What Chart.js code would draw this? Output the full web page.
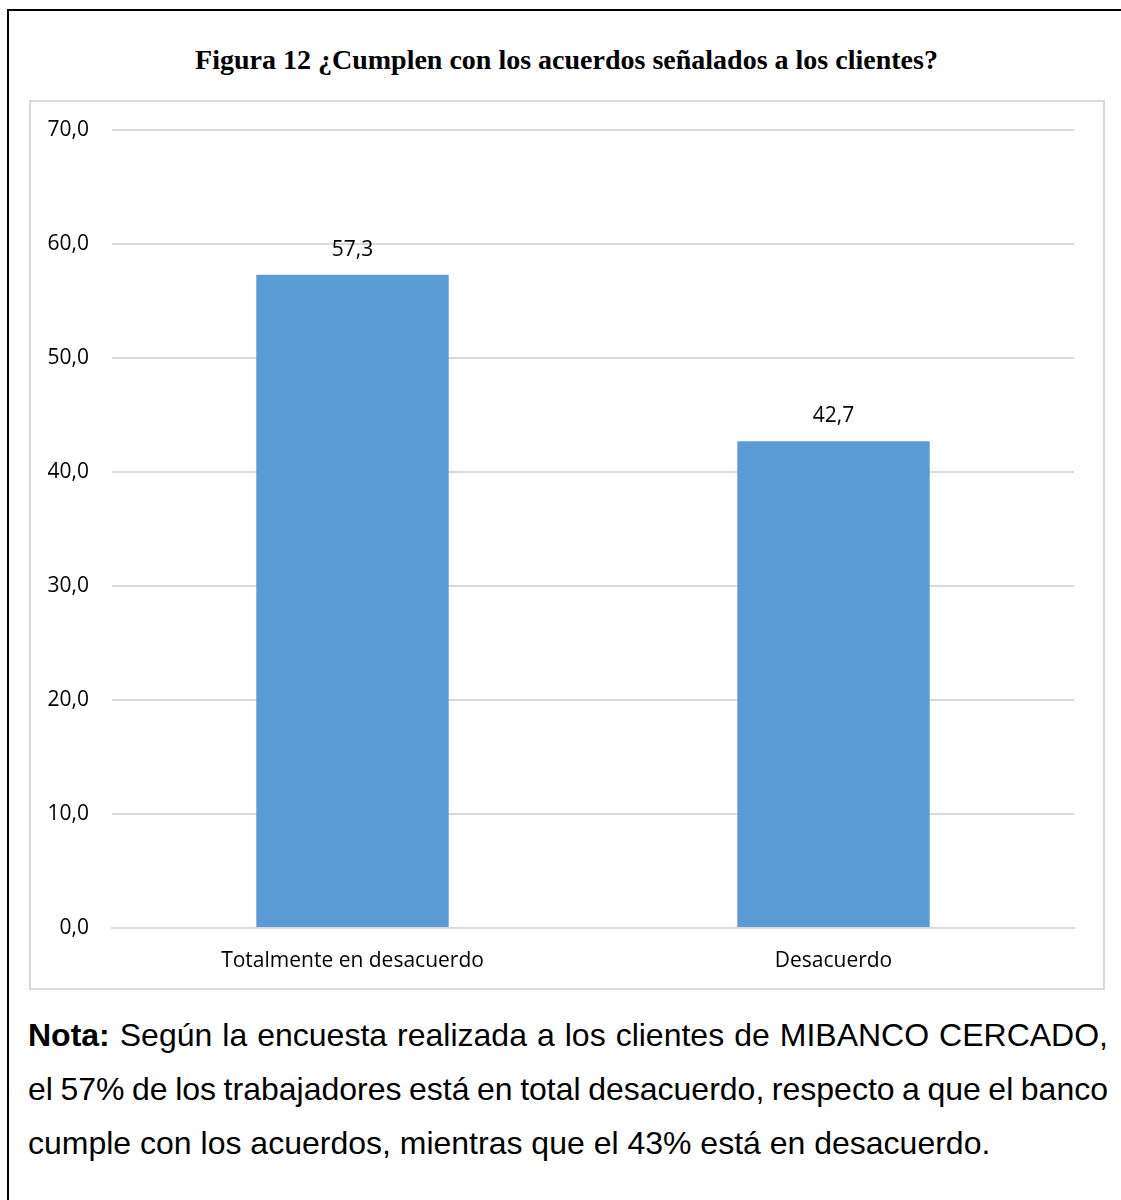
<!DOCTYPE html>
<html>
<head>
<meta charset="utf-8">
<script src="https://cdn.jsdelivr.net/npm/chart.js@4.4.0/dist/chart.umd.min.js"></script>
<style>
    body { margin: 0; background: #fff; }
    #page { position: relative; width: 1121px; height: 1200px; overflow: hidden; }
    #frame {
        position: absolute; left: 7px; top: 9px; width: 1200px; height: 1300px;
        border-left: 2px solid #000; border-top: 2px solid #000;
    }
    #title {
        position: absolute; left: 30px; width: 1073px; top: 44px;
        text-align: center; font-family: "Liberation Serif", serif;
        font-weight: bold; font-size: 28px; color: #000;
    }
    #box {
        position: absolute; left: 29px; top: 100px; width: 1072px; height: 886px;
        border: 2px solid #d9d9d9;
    }
    #note {
        position: absolute; left: 28px; top: 1015px; width: 1080px;
        font-family: "Liberation Sans", Arial, sans-serif; font-size: 32px; color: #000;
    }
    #note div { height: 54px; line-height: 40px; text-align: justify; text-align-last: justify; white-space: nowrap; }
    #note div.tight { word-spacing: -2px; }
    #note div.last { text-align-last: left; }
</style>
</head>
<body>
<div id="page">
    <div id="frame"></div>
    <div id="title">Figura 12 ¿Cumplen con los acuerdos señalados a los clientes?</div>
    <div id="box"><canvas id="chart" width="1072" height="886"></canvas></div>
    <div id="note">
        <div><b>Nota:</b> Según la encuesta realizada a los clientes de MIBANCO CERCADO,</div>
        <div class="tight">el 57% de los trabajadores está en total desacuerdo, respecto a que el banco</div>
        <div class="last">cumple con los acuerdos, mientras que el 43% está en desacuerdo.</div>
    </div>
</div>
<script>
const categories = ["Totalmente en desacuerdo", "Desacuerdo"];
const percentages = [57.3, 42.7];
const yTicks = [0, 10, 20, 30, 40, 50, 60, 70];

const fmt = (v) => v.toFixed(1).replace(".", ",");
const labelFont = "'Open Sans', sans-serif";

// draws the value above each bar
const barValues = {
    id: "barValues",
    afterDatasetsDraw(chart) {
        const ctx = chart.ctx;
        const meta = chart.getDatasetMeta(0);
        ctx.save();
        ctx.font = "21px " + labelFont;
        ctx.fillStyle = "#000";
        ctx.textAlign = "center";
        ctx.textBaseline = "middle";
        meta.data.forEach((bar, i) => {
            ctx.fillText(fmt(percentages[i]), bar.x, bar.y - 25);
        });
        ctx.restore();
    }
};

const ctx = document.getElementById("chart").getContext("2d");
new Chart(ctx, {
    type: "bar",
    data: {
        labels: categories,
        datasets: [
            {
                data: percentages,
                backgroundColor: "#5b9bd5",
                borderWidth: 0,
                categoryPercentage: 0.4,
                barPercentage: 1.0,
            },
        ],
    },
    options: {
        responsive: false,
        animation: false,
        layout: { padding: { left: 0, right: 29, top: 28, bottom: 0 } },
        plugins: { legend: { display: false }, tooltip: { enabled: false } },
        scales: {
            x: {
                grid: { display: false, drawTicks: false },
                border: { color: "#d9d9d9", width: 2 },
                ticks: {
                    padding: 20,
                    color: "#000",
                    font: { family: labelFont, size: 21 },
                },
                afterFit: (s) => {
                    s.height = 60;
                    s.paddingLeft = 0;
                    s.paddingRight = 0;
                },
            },
            y: {
                min: 0,
                max: 70,
                afterBuildTicks: (s) => { s.ticks = yTicks.map((v) => ({ value: v })); },
                grid: { color: "#d9d9d9", lineWidth: 2, drawTicks: false },
                border: { display: false },
                ticks: {
                    padding: 23,
                    color: "#000",
                    font: { family: labelFont, size: 21 },
                    callback: (v) => fmt(v),
                },
                afterFit: (s) => {
                    s.width = 81;
                    s.paddingTop = 0;
                    s.paddingBottom = 0;
                },
            },
        },
    },
    plugins: [barValues],
});
</script>
</body>
</html>
